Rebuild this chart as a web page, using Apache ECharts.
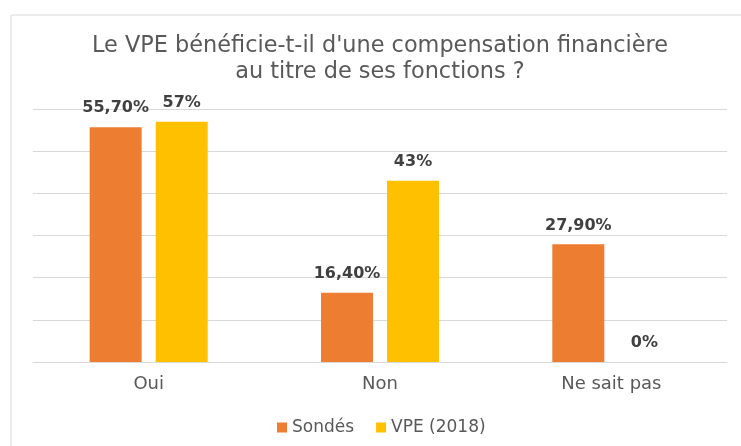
<!DOCTYPE html>
<html>
<head>
<meta charset="utf-8">
<script src="https://cdn.jsdelivr.net/npm/echarts@6/dist/echarts.min.js"></script>
<style>
  html, body { margin: 0; padding: 0; background: #fff; }
  #chart { width: 741px; height: 446px; }
</style>
</head>
<body>
<div id="chart"></div>
<script>
// données
const categories = ['Oui', 'Non', 'Ne sait pas'];
const sondesValues = [55.7, 16.4, 27.9];
const vpeValues = [57, 43, 0];
const sondesLabels = ['55,70%', '16,40%', '27,90%'];
const vpeLabels = ['57%', '43%', '0%'];

const fontFamily = 'DejaVu Sans';

const chart = echarts.init(document.getElementById('chart'));

const labelStyle = (texts) => ({
  show: true,
  position: 'top',
  distance: 11,
  color: '#404040',
  fontFamily,
  fontWeight: 'bold',
  fontSize: 16,
  formatter: (p) => texts[p.dataIndex],
});

chart.setOption({
  animation: false,
  textStyle: { fontFamily },
  graphic: [{
    type: 'rect',
    shape: { x: 11, y: 15, width: 760, height: 460 },
    style: { fill: 'none', stroke: '#d9d9d9', lineWidth: 1 },
    silent: true,
  }],
  title: {
    text: 'Le VPE bénéficie-t-il d\'une compensation financière\nau titre de ses fonctions ?',
    left: 375,
    textAlign: 'center',
    top: 28,
    textStyle: {
      color: '#595959',
      fontFamily,
      fontWeight: 'normal',
      fontSize: 22.4,
      lineHeight: 26,
    },
  },
  legend: {
    top: 414,
    left: 272,
    itemWidth: 10,
    itemHeight: 10,
    itemGap: 22,
    icon: 'rect',
    textStyle: { color: '#595959', fontSize: 17, fontFamily },
    data: ['Sondés', 'VPE (2018)'],
  },
  grid: {
    left: 33,
    right: 14,
    top: 109,
    bottom: 84,
  },
  xAxis: {
    type: 'category',
    data: categories,
    axisTick: { show: false },
    axisLine: { lineStyle: { color: '#d9d9d9', width: 1 } },
    axisLabel: { color: '#595959', fontSize: 18, margin: 13 },
  },
  yAxis: {
    type: 'value',
    min: 0,
    max: 60,
    interval: 10,
    axisLabel: { show: false },
    axisLine: { show: false },
    axisTick: { show: false },
    splitLine: { lineStyle: { color: '#d9d9d9', width: 1 } },
  },
  series: [{
    name: 'Sondés',
    type: 'bar',
    data: sondesValues,
    barWidth: 52,
    barGap: '27%',
    itemStyle: { color: '#ED7D31' },
    label: labelStyle(sondesLabels),
  }, {
    name: 'VPE (2018)',
    type: 'bar',
    data: vpeValues,
    barWidth: 52,
    itemStyle: { color: '#FFC000' },
    label: labelStyle(vpeLabels),
  }],
});
</script>
</body>
</html>
